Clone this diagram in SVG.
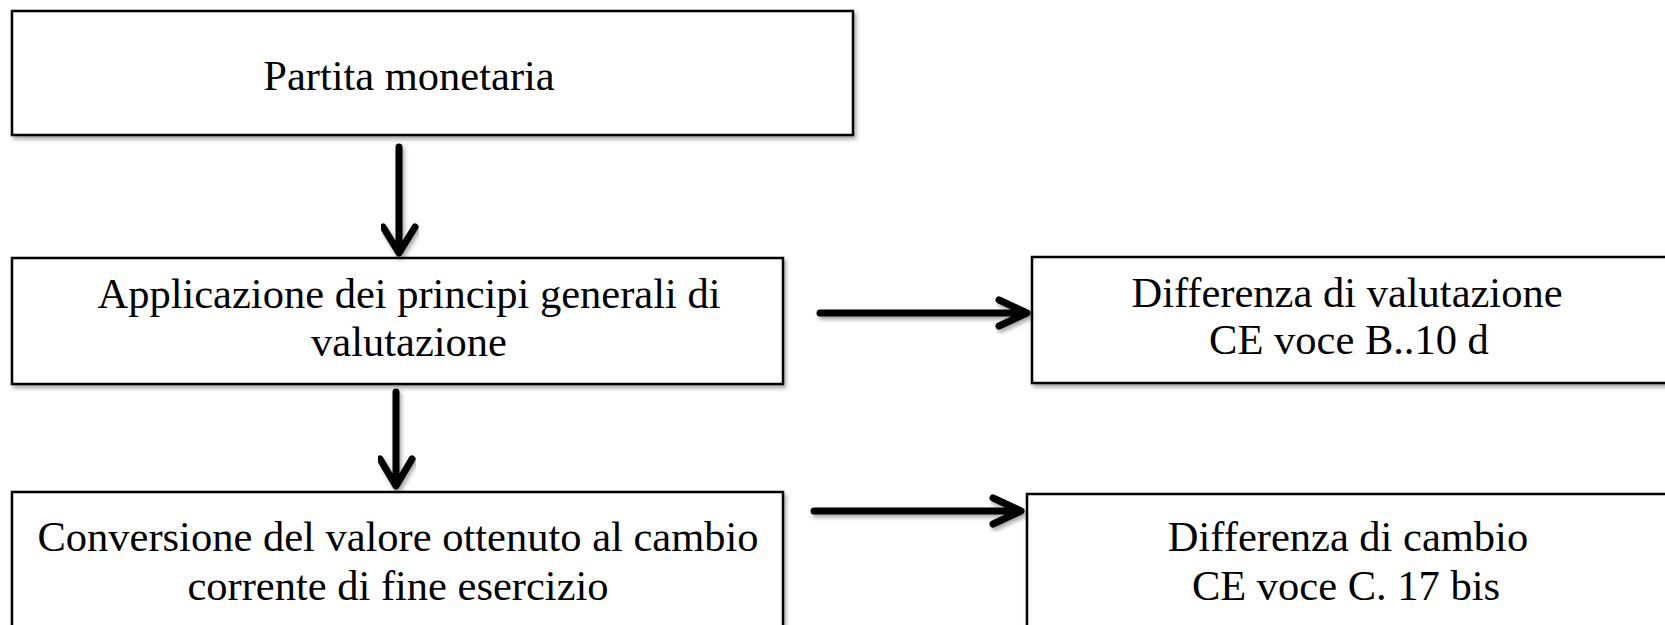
<svg xmlns="http://www.w3.org/2000/svg" width="1665" height="625" viewBox="0 0 1665 625">
  <style>
    .box { fill: #ffffff; stroke: #000000; stroke-width: 2.5; filter: url(#shadow); }
    .label { font-family: "Liberation Serif", "Times New Roman", serif; font-size: 42.5px; fill: #000000; text-anchor: middle; }
    .arrow { fill: none; stroke: #000000; stroke-width: 7; stroke-linecap: round; stroke-linejoin: round; filter: url(#shadow); }
  </style>
  <defs>
    <filter id="shadow" x="-5%" y="-20%" width="115%" height="150%">
      <feGaussianBlur in="SourceAlpha" stdDeviation="2"/>
      <feOffset dx="1.5" dy="3" result="blur"/>
      <feComponentTransfer><feFuncA type="linear" slope="0.35"/></feComponentTransfer>
      <feMerge><feMergeNode/><feMergeNode in="SourceGraphic"/></feMerge>
    </filter>
  </defs>
  <rect width="1665" height="625" fill="#ffffff"/>

  <g id="partita">
    <rect class="box" x="12" y="11" width="841" height="124"/>
    <text class="label" x="409" y="90">Partita monetaria</text>
  </g>

  <g id="applicazione">
    <rect class="box" x="12" y="258" width="771" height="126"/>
    <text class="label" x="409" y="308">Applicazione dei principi generali di</text>
    <text class="label" x="409" y="356">valutazione</text>
  </g>

  <g id="diff-valutazione">
    <rect class="box" x="1032" y="257" width="640" height="126"/>
    <text class="label" x="1347" y="307">Differenza di valutazione</text>
    <text class="label" x="1349" y="354">CE voce B..10 d</text>
  </g>

  <g id="conversione">
    <rect class="box" x="12" y="492" width="771" height="150"/>
    <text class="label" x="398" y="551">Conversione del valore ottenuto al cambio</text>
    <text class="label" x="398" y="600">corrente di fine esercizio</text>
  </g>

  <g id="diff-cambio">
    <rect class="box" x="1027" y="494" width="645" height="150"/>
    <text class="label" x="1348" y="551">Differenza di cambio</text>
    <text class="label" x="1346" y="600">CE voce C. 17 bis</text>
  </g>

  <g id="connectors">
    <path class="arrow" d="M399 147 V251 M383 227 L399 253 L415 227"/>
    <path class="arrow" d="M396 392 V484 M380 459 L396 486 L412 459"/>
    <path class="arrow" d="M820 313 H1025 M999 300 L1027 313 L999 326"/>
    <path class="arrow" d="M814 511 H1019 M993 498 L1021 511 L993 524"/>
  </g>
</svg>
